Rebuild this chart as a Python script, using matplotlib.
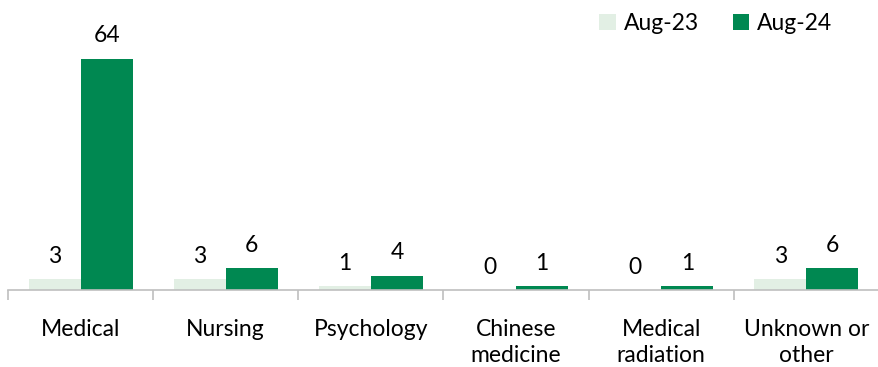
import matplotlib
matplotlib.use("Agg")
import matplotlib.pyplot as plt
import numpy as np

categories = ["Medical", "Nursing", "Psychology", "Chinese\nmedicine",
              "Medical\nradiation", "Unknown or\nother"]
aug23 = [3, 3, 1, 0, 0, 3]
aug24 = [64, 6, 4, 1, 1, 6]
series_names = ["Aug-23", "Aug-24"]

light = "#E2EFE4"
dark = "#008851"
axis_grey = "#BFBFBF"

plt.rcParams["font.family"] = ["Lato", "DejaVu Sans"]
fs = 16.5

fig = plt.figure(figsize=(8.79, 3.67), dpi=100)
ax = fig.add_axes([8 / 879, 77 / 367, 871 / 879, 290 / 367])

x = np.arange(len(categories))
w = 0.358
b1 = ax.bar(x - w / 2, aug23, w, color=light, label=series_names[0])
b2 = ax.bar(x + w / 2, aug24, w, color=dark, label=series_names[1])

for bars, vals in ((b1, aug23), (b2, aug24)):
    for rect, v in zip(bars, vals):
        ax.annotate(f"{v}", (rect.get_x() + rect.get_width() / 2, v),
                    xytext=(0, 9), textcoords="offset points",
                    ha="center", va="bottom", fontsize=fs, color="#000000")

ax.set_xlim(-0.5, len(categories) - 0.5)
ax.set_ylim(0, 80.3)

for s in ("top", "right", "left"):
    ax.spines[s].set_visible(False)
ax.spines["bottom"].set_color(axis_grey)
ax.spines["bottom"].set_linewidth(1.2)

ax.set_yticks([])
ax.set_xticks(x)
ax.set_xticklabels(categories, fontsize=fs, linespacing=1.3)
ax.tick_params(axis="x", which="major", length=0, pad=21)
ax.set_xticks(np.arange(-0.5, len(categories) + 0.5, 1), minor=True)
ax.tick_params(axis="x", which="minor", length=7, width=1.2,
               color=axis_grey, direction="out")

leg = ax.legend(loc="upper right", bbox_to_anchor=(0.97, 1.025), ncol=2,
                frameon=False, fontsize=fs, handlelength=0.7,
                handleheight=0.7, handletextpad=0.35, columnspacing=1.5)

fig.savefig("out.png", dpi=100)
